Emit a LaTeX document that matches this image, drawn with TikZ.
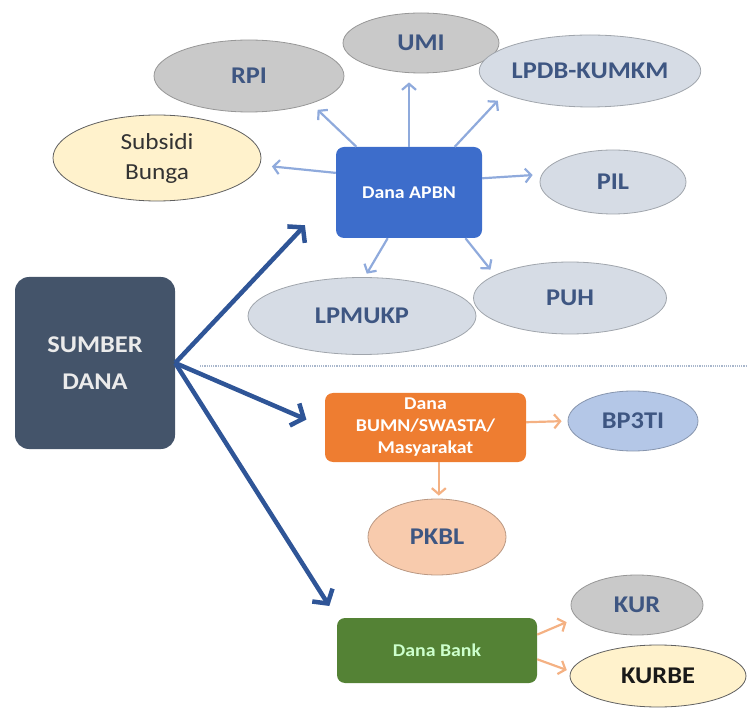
\documentclass[tikz,border=0pt]{standalone}
\usepackage{fontspec}
\setmainfont{Carlito}[FakeStretch=1.1]
\usepackage{tikz}
\usetikzlibrary{arrows.meta, shapes.geometric}

\definecolor{slate}{HTML}{44546A}
\definecolor{apbnblue}{HTML}{3D6DCB}
\definecolor{orange}{HTML}{EE7D31}
\definecolor{bankgreen}{HTML}{548235}
\definecolor{navy}{HTML}{2F5597}
\definecolor{lightarrow}{HTML}{8FAADC}
\definecolor{peacharrow}{HTML}{F4B183}
\definecolor{ovalgray}{HTML}{C9C9C9}
\definecolor{ovalblue}{HTML}{D6DCE5}
\definecolor{skyblue}{HTML}{B4C7E7}
\definecolor{peach}{HTML}{F8CBAD}
\definecolor{cream}{HTML}{FFF2CC}
\definecolor{labelblue}{HTML}{3E5682}
\definecolor{sepline}{HTML}{A9B7CC}

\begin{document}
\begin{tikzpicture}[x=1pt, y=-1pt,
	srcbox/.style={draw=none, rounded corners=14pt, text=white!92!black, align=center},
	fundbox/.style={draw=none, rounded corners=8pt, text=white, align=center, font=\fontsize{18}{22}\selectfont\bfseries},
	oval/.style={ellipse, inner sep=0pt, draw=#1!75!black, line width=0.8pt, text=labelblue, font=\fontsize{24}{28}\selectfont\bfseries},
	bigarr/.style={draw=navy, line width=4.5pt, -{Straight Barb[length=10pt, width=24pt]}},
	smallarr/.style={line width=2.2pt, -{Straight Barb[length=6pt, width=14pt]}}]
	\useasboundingbox (0,0) rectangle (747,708);

	\node[srcbox, fill=slate, minimum width=160pt, minimum height=172pt, font=\fontsize{24}{37}\selectfont\bfseries] (sumber) at (95,363) {SUMBER\\DANA};

	\node[fundbox, fill=apbnblue, minimum width=146pt, minimum height=91pt] (apbn) at (409,192.5) {Dana APBN};
	\node[fundbox, fill=orange, minimum width=201pt, minimum height=69pt] (bumn) at (425.5,427.5) {Dana\\BUMN/SWASTA/\\Masyarakat};
	\node[fundbox, fill=bankgreen, text=green!20!white, minimum width=200pt, minimum height=65pt] (bank) at (437,650.5) {Dana Bank};

	\node[oval=ovalgray, fill=ovalgray, minimum width=190pt, minimum height=72pt] (rpi) at (249,76) {RPI};
	\node[oval=ovalgray, fill=ovalgray, minimum width=156pt, minimum height=60pt] (umi) at (421,43) {UMI};
	\node[oval=ovalblue, fill=ovalblue, minimum width=190pt, minimum height=72pt] (lpdb) at (590,71) {LPDB-KUMKM};
	\node[oval=gray, fill=cream, text=black!80, align=center, minimum width=208pt, minimum height=86pt, font=\fontsize{23}{30}\selectfont] (subsidi) at (157,158) {Subsidi\\Bunga};
	\node[oval=ovalblue, fill=ovalblue, minimum width=146pt, minimum height=64pt] (pil) at (613,182) {PIL};
	\node[oval=ovalblue, fill=ovalblue, minimum width=228pt, minimum height=77pt] (lpmukp) at (362,316) {LPMUKP};
	\node[oval=ovalblue, fill=ovalblue, minimum width=193pt, minimum height=72pt] (puh) at (570,298) {PUH};

	\node[oval=skyblue, fill=skyblue, minimum width=130pt, minimum height=60pt] (bp3ti) at (633,421) {BP3TI};
	\node[oval=peach, fill=peach, minimum width=138pt, minimum height=76pt] (pkbl) at (437,537) {PKBL};

	\node[oval=ovalgray, fill=ovalgray, minimum width=132pt, minimum height=60pt] (kur) at (637,605) {KUR};
	\node[oval=gray, fill=cream, text=black!90, minimum width=176pt, minimum height=62pt] (kurbe) at (658,676) {KURBE};

	\coordinate (sepleft) at (200,366);
	\coordinate (sepright) at (747,366);
	\draw[densely dotted, line width=1.2pt, color=sepline] (sepleft) -- (sepright);

	\draw[bigarr, shorten >=45pt] (sumber.east) -- (apbn.west);
	\draw[bigarr, shorten >=20pt] (sumber.east) -- (bumn.west);
	\draw[bigarr, shorten >=14pt] (sumber.east) -- (bank.north west);

	\draw[smallarr, lightarrow, shorten >=9pt] (apbn.north) -- (apbn.north |- umi.south);
	\draw[smallarr, lightarrow, shorten >=9pt] (apbn.139) -- (rpi.-24);
	\draw[smallarr, lightarrow, shorten >=9pt] (apbn.45) -- (lpdb.195);
	\draw[smallarr, lightarrow, shorten >=12pt] (apbn.165) -- (subsidi.-4);
	\draw[smallarr, lightarrow, shorten >=9pt] (apbn.11) -- (pil.174);
	\draw[smallarr, lightarrow, shorten >=4pt] (apbn.-115) -- (lpmukp.86);
	\draw[smallarr, lightarrow, shorten >=7pt] (apbn.-39) -- (puh.163);

	\draw[smallarr, peacharrow, shorten >=6pt] (bumn.3) -- (bp3ti.180);
	\draw[smallarr, peacharrow, shorten >=3pt] (bumn.-69) -- (bumn.-69 |- pkbl.north);
	\draw[smallarr, peacharrow, shorten >=11pt] (bank.9) -- (kur.192);
	\draw[smallarr, peacharrow, shorten >=4pt] (bank.-5) -- (kurbe.177);
\end{tikzpicture}
\end{document}
